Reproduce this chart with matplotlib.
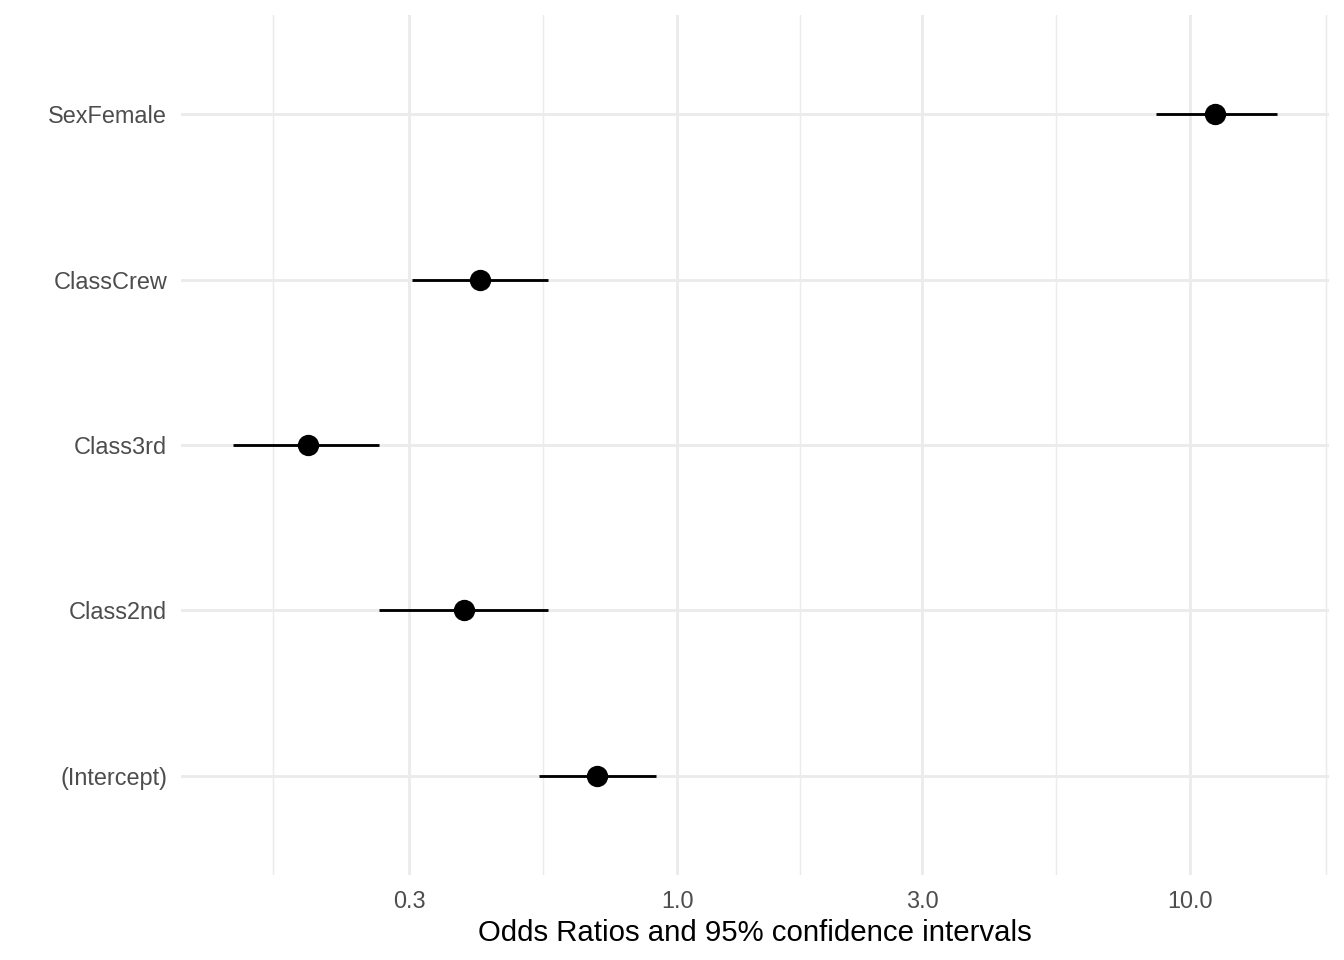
import matplotlib
matplotlib.use("Agg")
import matplotlib.pyplot as plt
import numpy as np

terms = ["(Intercept)", "Class2nd", "Class3rd", "ClassCrew", "SexFemale"]
odds = [0.698, 0.383, 0.190, 0.413, 11.19]
ci_low = [0.538, 0.262, 0.136, 0.304, 8.59]
ci_high = [0.910, 0.560, 0.262, 0.560, 14.77]
major_breaks = [0.3, 1.0, 3.0, 10.0]
major_labels = ["0.3", "1.0", "3.0", "10.0"]
minor_breaks = [0.163, 0.5477, 1.732, 5.477, 18.4]
xlabel = "Odds Ratios and 95% confidence intervals"

plt.rcParams['font.family'] = ['Liberation Sans', 'DejaVu Sans']
fig = plt.figure(figsize=(7, 5), dpi=192)
ax = fig.add_axes([181/1344, 1 - 875/960, (1329-181)/1344, (875-15)/960])

y = np.arange(len(terms))
lo = np.log10(min(ci_low)); hi = np.log10(max(ci_high))
pad = 0.05 * (hi - lo)
ax.set_xscale('log')
ax.set_xlim(10**(lo - pad), 10**(hi + pad))
ax.set_ylim(-0.6, len(terms) - 1 + 0.6)

grid_col = '#EBEBEB'
for m in minor_breaks:
    ax.axvline(m, color=grid_col, lw=0.55, zorder=0)
for m in major_breaks:
    ax.axvline(m, color=grid_col, lw=1.07, zorder=0)
for yy in y:
    ax.axhline(yy, color=grid_col, lw=1.07, zorder=0)

ax.hlines(y, ci_low, ci_high, color='black', lw=1.07, zorder=2)
ax.plot(odds, y, 'o', color='black', markersize=7, zorder=3)

ax.set_xticks(major_breaks)
ax.set_xticklabels(major_labels)
ax.xaxis.set_minor_locator(matplotlib.ticker.NullLocator())
ax.set_yticks(y)
ax.set_yticklabels(terms)
ax.tick_params(axis='both', length=0, labelsize=8.8, labelcolor='#4D4D4D')
ax.tick_params(axis='x', pad=5.5)
ax.tick_params(axis='y', pad=5.2)
for s in ax.spines.values():
    s.set_visible(False)
ax.set_xlabel(xlabel, fontsize=11, color='black', labelpad=2.5)
ax.set_facecolor('white')
fig.savefig("out.png", dpi=192, facecolor='white')
